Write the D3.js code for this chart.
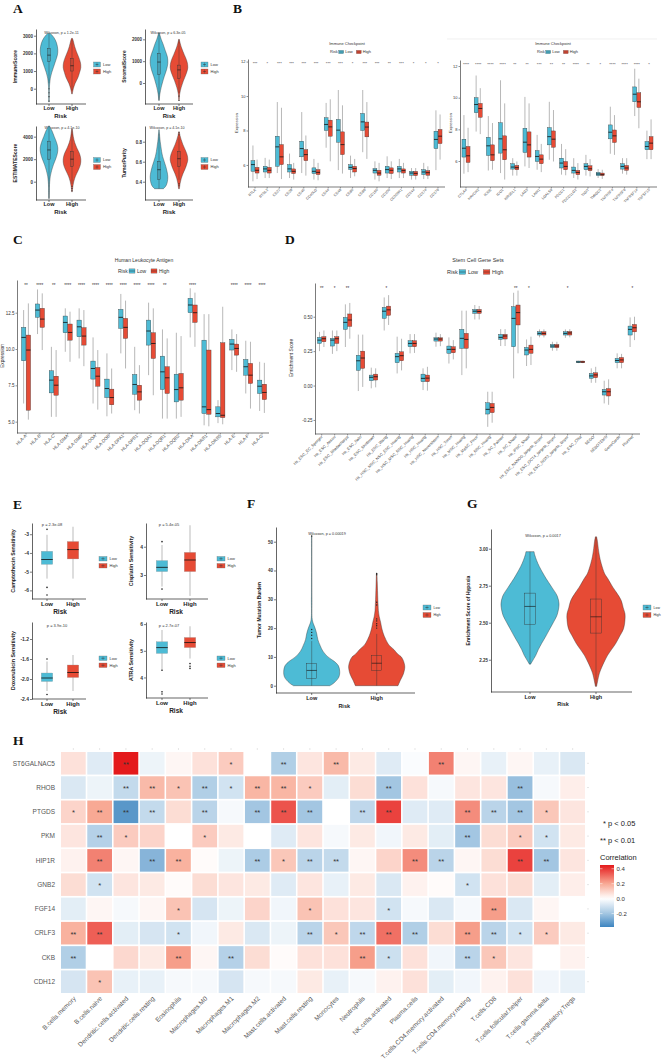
<!DOCTYPE html>
<html><head><meta charset="utf-8">
<script src="https://cdn.jsdelivr.net/npm/d3@7"></script>
<style>body{margin:0;background:#fff}svg{display:block}</style>
</head><body>
<script>
// ================= DATA =================
const riskGroups=["Low","High"];

// Panel A violin profiles [value, relative width]
const aImmuneLow=[[-750,0.02],[-400,0.03],[0,0.04],[300,0.08],[600,0.15],[900,0.3],[1200,0.5],[1500,0.7],[1900,0.95],[2200,1.0],[2600,0.85],[2900,0.55],[3130,0.15]];
const aImmuneHigh=[[-300,0.03],[0,0.15],[300,0.35],[600,0.65],[900,0.85],[1200,1.0],[1500,0.95],[1800,0.75],[2100,0.5],[2400,0.3],[2700,0.15],[2850,0.05]];
const aStromalLow=[[-800,0.02],[-500,0.1],[-200,0.25],[0,0.38],[300,0.6],[600,0.85],[900,1.0],[1200,0.95],[1500,0.7],[1800,0.45],[2000,0.25],[2200,0.1],[2300,0.03]];
const aStromalHigh=[[-800,0.02],[-500,0.08],[-200,0.25],[100,0.5],[400,0.8],[700,1.0],[1000,0.9],[1300,0.6],[1600,0.3],[1800,0.15],[2000,0.03]];
const aEstimateLow=[[-1500,0.02],[-500,0.05],[0,0.08],[500,0.15],[1000,0.3],[1500,0.5],[2000,0.75],[2500,0.95],[3000,1.0],[3500,0.85],[4000,0.6],[4500,0.35],[4800,0.15],[4950,0.05]];
const aEstimateHigh=[[-900,0.03],[-400,0.1],[0,0.2],[500,0.4],[1000,0.7],[1500,0.95],[2000,1.0],[2500,0.85],[3000,0.55],[3500,0.3],[4000,0.15],[4500,0.06],[4700,0.02]];
const aPurityLow=[[0.33,0.5],[0.36,0.8],[0.4,0.95],[0.45,1.0],[0.5,0.92],[0.55,0.78],[0.6,0.6],[0.65,0.42],[0.7,0.3],[0.75,0.22],[0.8,0.14],[0.85,0.08],[0.9,0.04],[0.92,0.02]];
const aPurityHigh=[[0.33,0.05],[0.38,0.12],[0.43,0.25],[0.48,0.45],[0.53,0.7],[0.58,0.9],[0.62,1.0],[0.67,0.92],[0.72,0.7],[0.77,0.45],[0.82,0.25],[0.86,0.12],[0.9,0.03]];
// box stats [lower whisker, Q1, median, Q3, upper whisker]
const aImmuneBoxLow=[300,1530,1900,2280,3100], aImmuneOutLow=[0,-230,-450,-700];
const aImmuneBoxHigh=[-100,1000,1300,1720,2800];
const aStromalBoxLow=[-800,400,960,1360,2300];
const aStromalBoxHigh=[-450,210,600,820,2000], aStromalOutHigh=[-600,-800];
const aEstimateBoxLow=[-1500,2000,2820,3600,4950];
const aEstimateBoxHigh=[-200,1330,2000,2670,4700], aEstimateOutHigh=[-400,-600,-800];
const aPurityBoxLow=[0.33,0.42,0.52,0.6,0.88];
const aPurityBoxHigh=[0.42,0.55,0.63,0.7,0.85], aPurityOutHigh=[0.87,0.89,0.36,0.38];
const aTitles=["Wilcoxon, p = 1.2e-11","Wilcoxon, p = 6.3e-05","Wilcoxon, p = 4.1e-10","Wilcoxon, p = 4.1e-10"];
const aYLabels=["ImmuneScore","StromalScore","ESTIMATEScore","TumorPurity"];

// Panel B – immune checkpoints
const bCats1=["BTLA","BTNL2","CD27","CD28","CD40","CD40LG","CD44","CD48","CD80","CD86","CD160","CD200","CD200R1","CD244","CD274","CD276"];
const bLow1=[[5.05,5.63,6.02,6.25,7.13],[5.24,5.59,5.77,5.92,6.41],[5.53,5.92,7.05,7.67,9.65],[5.24,5.59,5.77,6.02,6.66],[5.53,6.47,6.95,7.38,9.07],[5.15,5.5,5.63,5.83,6.35],[7.0,8.0,8.35,8.74,9.6],[5.7,7.32,8.02,8.64,10.35],[5.24,5.73,5.86,6.02,6.54],[6.74,8.0,8.5,8.99,10.35],[5.15,5.53,5.69,5.79,6.21],[5.24,5.53,5.73,5.92,6.5],[5.24,5.59,5.77,5.92,6.35],[5.15,5.4,5.53,5.63,5.82],[5.18,5.44,5.59,5.73,6.12],[5.7,6.95,7.48,7.96,9.17]];
const bHigh1=[[5.18,5.53,5.69,5.86,6.31],[5.24,5.53,5.69,5.86,6.31],[5.18,6.02,6.47,7.18,9.32],[5.15,5.5,5.63,5.77,6.12],[5.38,6.25,6.6,6.89,7.71],[5.11,5.44,5.57,5.73,6.12],[6.21,7.67,8.21,8.6,9.81],[5.5,6.6,7.18,7.92,9.46],[5.34,5.59,5.79,5.92,6.35],[6.35,7.63,8.2,8.49,9.65],[5.05,5.4,5.53,5.69,6.12],[5.18,5.5,5.69,5.83,6.21],[5.24,5.53,5.67,5.77,6.12],[5.15,5.38,5.51,5.63,5.82],[5.18,5.4,5.55,5.67,5.92],[6.31,7.24,7.67,8.06,8.93]];
const bSig1=["***","*","***","***","***","***","***","***","*","***","***","**","***","*","*","*"];
const bCats2=["CTLA4","HAVCR2","ICOS","IDO1","KIR3DL1","LAG3","LAIR1","LGALS9","PDCD1","PDCD1LG2","TIGIT","TMIGD2","TNFRSF4","TNFRSF9","TNFRSF14","TNFSF15"];
const bLow2=[[5.2,6.25,6.81,7.38,8.9],[7.86,9.05,9.57,10.0,11.4],[5.4,6.35,6.96,7.5,8.84],[5.24,6.5,7.4,8.42,11.1],[5.08,5.49,5.62,5.83,6.18],[5.66,6.54,7.19,8.07,10.05],[5.45,5.97,6.29,6.66,7.65],[6.08,7.02,7.54,8.11,9.74],[5.14,5.56,5.87,6.18,7.08],[4.93,5.24,5.41,5.62,6.18],[5.08,5.45,5.66,5.83,6.39],[4.93,5.08,5.18,5.28,5.49],[6.46,7.4,7.82,8.28,9.43],[5.2,5.49,5.66,5.83,6.18],[8.84,9.74,10.22,10.68,11.83],[6.12,6.71,6.92,7.23,7.92]];
const bHigh2=[[5.3,5.91,6.33,6.92,8.1],[7.7,8.76,9.32,9.64,10.6],[5.45,6.02,6.39,7.02,8.4],[4.83,6.08,6.71,7.59,9.64],[5.08,5.45,5.58,5.72,5.97],[5.56,6.25,7.02,7.84,9.64],[5.3,5.83,6.12,6.39,7.08],[5.97,6.87,7.38,7.9,9.22],[5.1,5.45,5.66,5.97,6.75],[4.83,5.14,5.28,5.41,5.87],[5.03,5.39,5.51,5.7,6.12],[4.87,5.08,5.14,5.24,5.45],[6.39,7.17,7.59,7.96,8.9],[5.14,5.41,5.56,5.72,6.18],[8.07,9.38,9.74,10.31,11.2],[6.12,6.71,7.13,7.54,8.63]];
const bSig2=["****","****","****","****","**","**","***","**","**","****","**","*","****","****","****","*"];

// Panel C – HLA
const cCats=["HLA-A","HLA-B","HLA-C","HLA-DMA","HLA-DMB","HLA-DOA","HLA-DOB","HLA-DPA1","HLA-DPB1","HLA-DQA1","HLA-DQB1","HLA-DQB2","HLA-DRA","HLA-DRB1","HLA-DRB5","HLA-E","HLA-F","HLA-G"];
const cLow=[[6.25,9.19,10.8,11.49,12.68],[11.03,12.18,12.68,13.1,14.1],[5.33,6.98,7.86,8.5,10.15],[9.81,11.12,11.83,12.27,12.8],[9.35,10.84,11.53,11.99,12.8],[6.25,7.93,8.66,9.17,10.8],[5.37,6.66,7.28,7.93,9.7],[9.7,11.42,12.18,12.73,13.79],[5.79,6.89,7.56,8.25,10.15],[8.2,10.27,11.24,11.99,13.19],[5.21,7.21,8.43,9.51,11.35],[5.21,6.36,7.21,8.27,11.12],[10.8,12.5,13.03,13.49,14.18],[4.75,5.56,6.02,10.61,12.4],[4.9,5.33,5.56,6.02,6.48],[8.55,9.93,10.34,10.66,11.35],[6.94,8.2,8.78,9.28,10.57],[5.74,6.94,7.44,7.86,9.12]];
const cHigh=[[5.14,5.79,9.93,10.96,13.14],[9.93,11.49,12.06,12.8,13.83],[5.33,6.82,7.51,8.13,9.93],[9.12,10.61,11.14,11.72,12.57],[8.82,10.27,10.89,11.47,12.68],[5.83,7.44,8.13,8.73,9.93],[5.56,6.16,6.66,7.24,8.66],[8.66,10.73,11.49,12.11,13.33],[5.56,6.48,7.05,7.51,8.89],[6.82,9.35,10.38,11.12,12.8],[5.21,6.94,8.02,8.78,10.73],[5.33,6.48,7.33,8.32,10.89],[10.15,11.83,12.5,13.03,13.88],[4.68,5.51,5.83,9.93,12.4],[4.82,5.28,5.44,10.43,12.91],[8.43,9.58,10.04,10.34,11.03],[5.9,7.63,8.2,9.01,10.5],[5.6,6.52,7.01,7.58,9.05]];
const cSig=["**","****","**","****","****","****","****","****","****","****","**","","****","","","****","****","****"];

// Panel D – stem cell gene sets
const dCats=["Hs_ESC_EC_Sperger","Hs_ESC_Assou","Hs_ESC_Bhattacharya","Hs_ESC_Sato","Hs_ESC_Skottman","Hs_ESC_Wang","Hs_HSC_MSC_NSC_ESC_Huang","Hs_HSC_MSC_NSC_Huang","Hs_HSC_Huang","Hs_HSC_Novershtern","Hs_HSC_Toren","Hs_MSC_Huang","Hs_MaSC_Pece","Hs_NSC_Huang","Hs_SC_Palmer","Hs_SC_Shats","Hs_iPSC_Shats","Hs_ESC_NANOG_targets_Boyer","Hs_ESC_OCT4_targets_Boyer","Hs_ESC_SOX2_targets_Boyer","Hs_ESC_Chia","SEGO","SEBOTEMS","GeneCards","Plurinet"];
const dLow=[[0.25,0.306,0.33,0.35,0.39],[0.23,0.287,0.33,0.343,0.40],[0.28,0.408,0.459,0.495,0.59],[-0.04,0.11,0.18,0.22,0.37],[-0.02,0.035,0.06,0.076,0.13],[0.40,0.488,0.54,0.568,0.64],[0.088,0.166,0.21,0.234,0.355],[0.234,0.282,0.306,0.326,0.374],[-0.033,0.028,0.052,0.083,0.125],[0.282,0.323,0.338,0.347,0.384],[0.16,0.234,0.263,0.287,0.35],[0.076,0.27,0.343,0.408,0.544],[0.48,0.524,0.54,0.553,0.585],[-0.3,-0.207,-0.173,-0.125,-0.045],[0.287,0.335,0.35,0.372,0.41],[0.052,0.282,0.488,0.573,0.674],[0.142,0.222,0.258,0.277,0.335],[0.35,0.367,0.379,0.391,0.408],[0.253,0.275,0.287,0.299,0.318],[0.347,0.367,0.379,0.391,0.408],[0.163,0.166,0.171,0.178,0.18],[0.02,0.052,0.07,0.088,0.125],[-0.13,-0.069,-0.045,-0.028,0.035],[0.125,0.166,0.182,0.197,0.234],[0.28,0.367,0.408,0.432,0.495]];
const dHigh=[[0.28,0.318,0.34,0.355,0.40],[0.25,0.306,0.34,0.355,0.40],[0.34,0.43,0.476,0.52,0.60],[-0.01,0.125,0.2,0.25,0.37],[-0.013,0.04,0.064,0.083,0.125],[0.44,0.51,0.55,0.577,0.657],[0.11,0.18,0.217,0.245,0.34],[0.237,0.282,0.306,0.326,0.374],[-0.037,0.028,0.054,0.076,0.136],[0.286,0.323,0.338,0.347,0.374],[0.19,0.238,0.263,0.282,0.33],[0.125,0.27,0.335,0.379,0.544],[0.48,0.524,0.538,0.553,0.578],[-0.27,-0.197,-0.159,-0.13,-0.045],[0.287,0.338,0.36,0.372,0.41],[0.234,0.44,0.53,0.585,0.69],[0.149,0.234,0.263,0.294,0.355],[0.35,0.367,0.379,0.391,0.408],[0.253,0.275,0.287,0.299,0.318],[0.35,0.367,0.382,0.393,0.41],[0.163,0.166,0.171,0.178,0.18],[0.02,0.057,0.077,0.093,0.136],[-0.14,-0.076,-0.045,-0.022,0.045],[0.125,0.166,0.186,0.204,0.23],[0.33,0.39,0.42,0.444,0.5]];
const dSig=["**","*","**","","","*","","","","","","","","","","**","*","","","*","","","","","*"];

// Panel E – drug sensitivity boxes
const eTitles=["p = 2.3e-08","p = 5.4e-05","p = 3.9e-10","p = 2.7e-07"];
const eYLabels=["Camptothecin Sensitivity","Cisplatin Sensitivity","Doxorubicin Sensitivity","ATRA Sensitivity"];
const eCampLow=[-5.37,-4.61,-4.35,-3.91,-3.03], eCampLowOut=[-2.74,-5.84,-6.25];
const eCampHigh=[-5.37,-4.32,-3.82,-3.39,-2.6];
const eCispLow=[2.59,3.12,3.27,3.51,4.06], eCispLowOut=[4.18,2.5];
const eCispHigh=[2.26,3.12,3.53,3.8,4.76];
const eDoxoLow=[-2.24,-2.05,-1.98,-1.88,-1.65], eDoxoLowOut=[-1.6,-2.31];
const eDoxoHigh=[-2.24,-1.97,-1.87,-1.72,-1.52];
const eAtraLow=[4.27,4.9,5.12,5.34,5.78], eAtraLowOut=[3.38,3.46,4.27];
const eAtraHigh=[4.71,5.12,5.31,5.5,5.92], eAtraHighOut=[4.52,4.42,4.34];

// Panel F – TMB violins
const fLow=[[0,0.65],[1,0.8],[3,0.97],[5,1.0],[7,0.95],[8.5,0.8],[10,0.58],[12,0.4],[14,0.3],[16,0.22],[18,0.18],[20,0.12],[21.5,0.06],[23,0.02],[30,0.01],[52,0.008]];
const fHigh=[[0,0.76],[2,0.85],[4,0.95],[6,1.0],[7,1.0],[8.5,0.96],[10,0.88],[11,0.75],[12.5,0.62],[14,0.45],[15,0.38],[17,0.28],[18,0.24],[20,0.18],[22,0.14],[24,0.09],[26,0.06],[28,0.05],[30,0.04],[33,0.03],[36,0.02],[39,0.01]];
const fBoxLow=[0,2.5,5.3,7.8,15.5], fOutLow=[16.4,17.5,18.5,19.5,52];
const fBoxHigh=[0,5.3,7.8,10.4,18], fOutHigh=[20,20.8,21.5,22.5,23.2,28,29,38.5,39];

// Panel G – hypoxia violins
const gLow=[[2.22,0.02],[2.24,0.08],[2.28,0.2],[2.32,0.29],[2.36,0.4],[2.4,0.52],[2.45,0.66],[2.5,0.8],[2.55,0.93],[2.6,0.99],[2.63,1.0],[2.68,0.94],[2.74,0.75],[2.8,0.55],[2.83,0.46],[2.88,0.32],[2.92,0.23],[2.96,0.16],[2.98,0.14]];
const gHigh=[[2.07,0.02],[2.1,0.05],[2.16,0.12],[2.2,0.2],[2.23,0.27],[2.28,0.4],[2.32,0.54],[2.36,0.68],[2.41,0.82],[2.46,0.95],[2.52,1.0],[2.56,1.0],[2.6,0.94],[2.65,0.87],[2.7,0.72],[2.74,0.58],[2.8,0.4],[2.83,0.3],[2.9,0.18],[2.95,0.12],[3.0,0.08],[3.05,0.05],[3.08,0.02]];
const gBoxLow=[2.22,2.49,2.61,2.70,2.98];
const gBoxHigh=[2.07,2.43,2.54,2.66,3.08];

// Panel H – correlation heatmap
const hRows=["ST6GALNAC5","RHOB","PTGDS","PKM","HIP1R","GNB2","FGF14","CRLF3","CKB","CDH12"];
const hCols=["B.cells.memory","B.cells.naive","Dendritic.cells.activated","Dendritic.cells.resting","Eosinophils","Macrophages.M0","Macrophages.M1","Macrophages.M2","Mast.cells.activated","Mast.cells.resting","Monocytes","Neutrophils","NK.cells.activated","Plasma.cells","T.cells.CD4.memory.activated","T.cells.CD4.memory.resting","T.cells.CD8","T.cells.follicular.helper","T.cells.gamma.delta","T.cells.regulatory.Tregs"];
const hVals=[
[0.07,-0.07,0.45,-0.04,0.02,0.07,0.12,0.0,-0.17,0.06,0.16,0.05,-0.07,-0.01,0.27,0.02,-0.05,0.02,-0.05,-0.08],
[-0.08,-0.04,-0.13,0.16,0.14,-0.17,-0.1,0.17,0.17,0.12,-0.06,0.08,-0.2,0.07,-0.02,0.06,0.06,-0.22,-0.02,0.04],
[0.1,0.2,-0.33,-0.13,0.08,-0.15,-0.02,-0.2,0.35,-0.2,0.0,-0.14,0.38,-0.07,-0.07,0.25,-0.15,-0.2,0.13,0.06],
[0.06,-0.16,0.12,0.1,0.0,0.12,0.05,0.0,-0.07,0.06,-0.02,0.05,-0.03,0.05,-0.06,-0.2,0.08,0.12,-0.1,0.05],
[0.03,0.27,0.02,-0.25,0.18,0.01,-0.04,-0.18,0.13,-0.15,-0.13,0.02,0.1,0.25,-0.15,0.02,0.08,0.38,-0.2,0.06],
[0.08,-0.1,0.06,0.05,0.01,0.08,0.06,0.05,-0.07,0.06,-0.05,0.05,-0.08,0.03,0.01,-0.1,0.07,0.08,-0.06,0.04],
[-0.06,0.02,-0.02,0.02,0.14,-0.09,-0.04,0.1,-0.03,0.14,0.07,0.06,-0.1,-0.02,-0.08,-0.02,0.22,-0.08,0.02,0.0],
[0.18,0.33,-0.06,-0.09,-0.1,-0.03,0.05,-0.08,-0.04,-0.15,0.13,-0.14,0.3,-0.17,0.08,0.22,-0.15,-0.1,0.12,0.05],
[-0.17,0.0,0.09,0.05,0.22,0.02,-0.16,0.08,0.01,0.07,0.07,0.22,-0.11,0.07,-0.03,-0.15,0.13,0.06,0.0,0.03],
[-0.09,0.14,-0.05,-0.05,-0.02,-0.02,-0.09,-0.02,-0.02,0.05,-0.05,-0.02,0.03,0.07,-0.06,-0.03,0.03,0.07,-0.03,-0.05]];
const hSig=[
["","","**","","","","*","","**","","**","","","","**","","","","",""],
["","","**","**","*","**","*","**","**","*","","","**","","","","","**","",""],
["*","**","**","**","","**","","**","**","**","","**","**","","","**","**","**","*",""],
["","**","*","","","*","","","","","","","","","","**","","*","*",""],
["","**","","**","**","","","**","*","**","**","","","**","**","","","**","**",""],
["","*","","","","","","","","","","","","","","*","","","",""],
["","","","","*","","","","","*","","","*","","","","**","","",""],
["**","**","","","*","","","","","**","*","**","**","**","","**","**","*","*",""],
["**","","","","**","","**","","","","","**","*","","","**","*","","",""],
["","*","","","","","","","","","","","","","","","","","",""]];
const hLegendTicks=[-0.2,0.0,0.2,0.4];

// ================= DRAWING =================
const W=666,H=1062;
const SANS='"Liberation Sans",Arial,Helvetica,sans-serif';
const SERIF='"Liberation Serif","Times New Roman",serif';
const COL={Low:"#4DBBD5",High:"#E64B35"};
const svg=d3.select("body").append("svg").attr("width",W).attr("height",H);
svg.append("rect").attr("width",W).attr("height",H).attr("fill","#fff");
const fmt=f=>d=>d3.format(f)(d).replace("\u2212","-");

function txt(g,x,y,s,o={}){
  const t=g.append("text").attr("x",x).attr("y",y).text(s)
    .attr("font-size",o.fs||5).attr("fill",o.fill||"#333")
    .attr("text-anchor",o.anchor||"middle")
    .attr("font-weight",o.bold?"bold":"normal")
    .attr("font-family",o.font||SANS);
  if(o.rot) t.attr("transform",`rotate(${o.rot},${x},${y})`);
  if(o.db) t.attr("dominant-baseline",o.db);
  return t;
}
function styleAxis(sel,fs,bold,col){
  sel.selectAll("path.domain").attr("stroke",col).attr("stroke-width",0.7);
  sel.selectAll(".tick line").attr("stroke",col).attr("stroke-width",0.6);
  sel.selectAll(".tick text").attr("font-size",fs).attr("font-family",SANS)
     .attr("fill","#333").attr("font-weight",bold?"bold":"normal");
}
function drawBox(g,cx,bw,y,st,fill,o={}){
  g.append("line").attr("x1",cx).attr("x2",cx).attr("y1",y(st[0])).attr("y2",y(st[4]))
    .attr("stroke",o.wc||"#333").attr("stroke-width",o.ww||0.5);
  g.append("rect").attr("x",cx-bw/2).attr("y",y(st[3])).attr("width",bw)
    .attr("height",Math.max(0.4,y(st[1])-y(st[3]))).attr("fill",fill)
    .attr("stroke",o.sc||"#333").attr("stroke-width",o.sw||0.4);
  g.append("line").attr("x1",cx-bw/2).attr("x2",cx+bw/2).attr("y1",y(st[2])).attr("y2",y(st[2]))
    .attr("stroke","#111").attr("stroke-width",o.mw||0.8);
  (o.out||[]).forEach(v=>g.append("circle").attr("cx",cx).attr("cy",y(v)).attr("r",o.r||0.7).attr("fill","#222"));
}
function drawViolin(g,cx,y,prof,hw,fill){
  const area=d3.area().curve(d3.curveCatmullRom.alpha(0.5))
    .y(d=>y(d[0])).x0(d=>cx-d[1]*hw).x1(d=>cx+d[1]*hw);
  g.append("path").datum(prof).attr("d",area).attr("fill",fill).attr("stroke","#333").attr("stroke-width",0.4);
}
function riskFrame(o){
  const g=svg.append("g");
  const y=d3.scaleLinear().domain(o.yd).range([o.yb,o.yt]);
  const x=d3.scalePoint().domain(riskGroups).range(o.xr);
  const ax=g.append("g").attr("transform",`translate(${o.x0},0)`)
    .call(d3.axisLeft(y).tickValues(o.ticks).tickFormat(fmt(o.fmt||"d")).tickSize(2).tickPadding(1).tickSizeOuter(0));
  styleAxis(ax,o.tfs,true,"#222");
  g.append("line").attr("x1",o.x0).attr("x2",o.x1).attr("y1",o.yb).attr("y2",o.yb).attr("stroke","#222").attr("stroke-width",0.7);
  riskGroups.forEach(r=>{
    g.append("line").attr("x1",x(r)).attr("x2",x(r)).attr("y1",o.yb).attr("y2",o.yb+2).attr("stroke","#222").attr("stroke-width",0.6);
    txt(g,x(r),o.yb+o.lowDy,r,{fs:o.xfs,bold:true,fill:"#222"});
  });
  txt(g,(x("Low")+x("High"))/2,o.yb+o.riskDy,"Risk",{fs:o.rfs,bold:true,fill:"#222"});
  txt(g,o.ylx,(o.yt+o.yb)/2,o.ylab,{fs:o.yfs,bold:true,fill:"#222",rot:-90});
  if(o.title) txt(g,o.tx,o.ty,o.title,{fs:o.titfs||4,fill:"#333"});
  return {g,x,y};
}
function riskLegend(x,y1,y2,w,h,fs){
  const g=svg.append("g");
  [[riskGroups[0],y1],[riskGroups[1],y2]].forEach(([r,yy])=>{
    g.append("rect").attr("x",x).attr("y",yy).attr("width",w).attr("height",h)
      .attr("fill",COL[r]).attr("stroke","#666").attr("stroke-width",0.3);
    g.append("line").attr("x1",x+w*0.3).attr("x2",x+w*0.7).attr("y1",yy+h/2).attr("y2",yy+h/2).attr("stroke","#333").attr("stroke-width",0.5);
    g.append("line").attr("x1",x+w/2).attr("x2",x+w/2).attr("y1",yy+0.5).attr("y2",yy+h-0.5).attr("stroke","#333").attr("stroke-width",0.3);
    txt(g,x+w+2.5,yy+h/2+fs*0.35,r,{fs:fs,anchor:"start",fill:"#333"});
  });
}
function groupLegend(lx,ly,f){
  const g=svg.append("g");
  txt(g,lx,ly+f*0.35,"Risk",{fs:f,anchor:"start",fill:"#333"});
  const pos=[[riskGroups[0],2.2],[riskGroups[1],6.6]];
  pos.forEach(([r,o])=>{
    const rx=lx+o*f, w=1.2*f, h=0.85*f;
    g.append("rect").attr("x",rx).attr("y",ly-h/2).attr("width",w).attr("height",h)
      .attr("fill",COL[r]).attr("stroke","#555").attr("stroke-width",0.3);
    g.append("line").attr("x1",rx).attr("x2",rx+w).attr("y1",ly).attr("y2",ly).attr("stroke","#222").attr("stroke-width",0.4);
    txt(g,rx+w+0.4*f,ly+f*0.35,r,{fs:f,anchor:"start",fill:"#333"});
  });
}
function groupPanel(o){
  const g=svg.append("g");
  const x=d3.scalePoint().domain(o.cats).range(o.xr);
  const y=d3.scaleLinear().domain(o.yd).range([o.yb,o.yt]);
  const ax=g.append("g").attr("transform",`translate(${o.x0},0)`)
    .call(d3.axisLeft(y).tickValues(o.ticks).tickFormat(fmt(o.fmt)).tickSize(1.5).tickPadding(1).tickSizeOuter(0));
  styleAxis(ax,o.tfs,false,"#444");
  g.append("line").attr("x1",o.x0).attr("x2",o.x1).attr("y1",o.yb).attr("y2",o.yb).attr("stroke","#444").attr("stroke-width",0.7);
  const st=x.step(), bw=st*0.32, off=st*0.17;
  o.cats.forEach((c,i)=>{
    const cx=x(c);
    g.append("line").attr("x1",cx).attr("x2",cx).attr("y1",o.yb).attr("y2",o.yb+1.5).attr("stroke","#444").attr("stroke-width",0.5);
    txt(g,cx+1.2,o.yb+3.2,c,{fs:o.lfs,anchor:"end",rot:-45,fill:"#444"});
    drawBox(g,cx-off,bw,y,o.low[i],COL.Low,{wc:"#9a9a9a",ww:0.7,sc:"#333",sw:0.35,mw:0.8});
    drawBox(g,cx+off,bw,y,o.high[i],COL.High,{wc:"#9a9a9a",ww:0.7,sc:"#333",sw:0.35,mw:0.8});
    if(o.sig[i]) txt(g,cx,o.sigY,o.sig[i],{fs:o.sfs,fill:"#333"});
  });
  txt(g,o.titleX,o.titleY,o.title,{fs:o.titfs,fill:"#333"});
  groupLegend(o.legX,o.legY,o.legfs);
  txt(g,o.ylx,o.yly,o.ylab,{fs:o.yfs,rot:-90,fill:"#333"});
}

// ---------- Panel letters ----------
[["A",13,12.5],["B",233,13],["C",13,243.5],["D",285,244],["E",13,509],["F",247,508],["G",467,508],["H",13,745]]
  .forEach(([l,x,y])=>txt(svg,x,y,l,{fs:13.5,bold:true,anchor:"start",font:SERIF,fill:"#111"}));

// ---------- Panel A ----------
const aCfg=[
 {x0:36,x1:86,yt:29,yb:104,yd:[-866,3380],ticks:[0,1000,2000,3000],xr:[49,72],ylx:17,tx:61.5,ty:33.5,
  prof:[aImmuneLow,aImmuneHigh],box:[aImmuneBoxLow,aImmuneBoxHigh],out:[aImmuneOutLow,[]]},
 {x0:145,x1:193,yt:29,yb:104,yd:[-962,2474],ticks:[0,1000,2000],xr:[159,179],ylx:126,tx:168,ty:33.5,
  prof:[aStromalLow,aStromalHigh],box:[aStromalBoxLow,aStromalBoxHigh],out:[[],aStromalOutHigh]},
 {x0:36,x1:86,yt:126,yb:200,yd:[-1627,4947],ticks:[0,2000,4000],xr:[49,72],ylx:17,tx:62,ty:129,
  prof:[aEstimateLow,aEstimateHigh],box:[aEstimateBoxLow,aEstimateBoxHigh],out:[[],aEstimateOutHigh]},
 {x0:145,x1:193,yt:126,yb:200,yd:[0.217,0.957],ticks:[0.4,0.6,0.8],fmt:".1f",xr:[159,179],ylx:126,tx:167,ty:129,
  prof:[aPurityLow,aPurityHigh],box:[aPurityBoxLow,aPurityBoxHigh],out:[[],aPurityOutHigh]}];
aCfg.forEach((c,i)=>{
  const f=riskFrame(Object.assign({},c,{tfs:4.5,xfs:5.5,rfs:6,yfs:5,lowDy:6.3,riskDy:13.5,ylab:aYLabels[i],title:aTitles[i],titfs:3.6}));
  riskGroups.forEach((r,j)=>{
    drawViolin(f.g,f.x(r),f.y,c.prof[j],8.8,COL[r]);
    drawBox(f.g,f.x(r),3.2,f.y,c.box[j],"none",{wc:"#333",ww:0.4,sc:"#333",sw:0.4,mw:0.6,out:c.out[j],r:0.55});
  });
});
riskLegend(93.5,62,69,7,5,4);
riskLegend(201,62,69,7,5,4);
riskLegend(93.5,157.5,164.5,7,5,4);
riskLegend(201,157.5,164.5,7,5,4);

// ---------- Panel B ----------
groupPanel({cats:bCats1,low:bLow1,high:bHigh1,sig:bSig1,xr:[255,438],x0:248,x1:445,yt:59,yb:187,yd:[4.72,12.15],
  ticks:[6,8,10,12],fmt:"d",tfs:4,lfs:3.6,sfs:4,sigY:64.5,title:"Immune Checkpoint",titleX:347,titleY:44.5,titfs:4,
  legX:330,legY:52,legfs:4,ylab:"Expression",ylx:238,yly:123,yfs:4});
svg.append("line").attr("x1",447).attr("x2",657).attr("y1",39).attr("y2",39).attr("stroke","#e6e6e6").attr("stroke-width",0.6);
groupPanel({cats:bCats2,low:bLow2,high:bHigh2,sig:bSig2,xr:[466,649],x0:460,x1:657,yt:60,yb:187,yd:[4.36,12.38],
  ticks:[6,8,10,12],fmt:"d",tfs:4,lfs:3.6,sfs:4,sigY:66,title:"Immune Checkpoint",titleX:553,titleY:44.5,titfs:4,
  legX:537,legY:52,legfs:4,ylab:"Expression",ylx:452,yly:123,yfs:4});

// ---------- Panel C ----------
groupPanel({cats:cCats,low:cLow,high:cHigh,sig:cSig,xr:[26,262],x0:17,x1:269,yt:280,yb:433,yd:[4.22,14.75],
  ticks:[5,7.5,10,12.5],fmt:".1f",tfs:4.5,lfs:4.5,sfs:4.5,sigY:287,title:"Human Leukocyte Antigen",titleX:144,titleY:261.5,titfs:5,
  legX:118,legY:271,legfs:5,ylab:"Expression",ylx:4,yly:356,yfs:4.8});

// ---------- Panel D ----------
groupPanel({cats:dCats,low:dLow,high:dHigh,sig:dSig,xr:[321.7,632.3],x0:315,x1:640,yt:283,yb:434,yd:[-0.352,0.745],
  ticks:[-0.25,0,0.25,0.5],fmt:".2f",tfs:4.5,lfs:4,sfs:4.5,sigY:290,title:"Stem Cell Gene Sets",titleX:478,titleY:261.5,titfs:5.5,
  legX:447,legY:272,legfs:5.5,ylab:"Enrichment Score",ylx:293,yly:358,yfs:4.8});

// ---------- Panel E ----------
const eCfg=[
 {x0:32,x1:86,yt:523,yb:599,yd:[-6.46,-2.4],ticks:[-6,-5,-4,-3],xr:[47,73],ylx:15,tx:52,ty:525.5,
  box:[eCampLow,eCampHigh],out:[eCampLowOut,[]]},
 {x0:146,x1:208,yt:523,yb:599,yd:[2.15,4.84],ticks:[3,4],xr:[162,190],ylx:133,tx:169,ty:525.5,
  box:[eCispLow,eCispHigh],out:[eCispLowOut,[]]},
 {x0:32,x1:86,yt:622,yb:699,yd:[-2.4,-0.86],ticks:[-2.4,-2.0,-1.6,-1.2],fmt:".1f",xr:[47,73],ylx:15,tx:57,ty:626.5,
  box:[eDoxoLow,eDoxoHigh],out:[eDoxoLowOut,[]]},
 {x0:146,x1:208,yt:622,yb:698,yd:[3.23,6.08],ticks:[4,5,6],xr:[162,190],ylx:133,tx:169,ty:626.5,
  box:[eAtraLow,eAtraHigh],out:[eAtraLowOut,eAtraHighOut]}];
eCfg.forEach((c,i)=>{
  const f=riskFrame(Object.assign({},c,{tfs:5,xfs:6,rfs:6.5,yfs:5.3,lowDy:7,riskDy:15,ylab:eYLabels[i],title:eTitles[i],titfs:4}));
  riskGroups.forEach((r,j)=>drawBox(f.g,f.x(r),11.5,f.y,c.box[j],COL[r],{wc:"#aaa",ww:0.8,sc:"#999",sw:0.3,mw:0.8,out:c.out[j],r:0.8}));
});
riskLegend(99,556.5,563.5,8,4.5,4);
riskLegend(217,556.5,563.5,8,4.5,4);
riskLegend(99,656,663,8,4.5,4);
riskLegend(217,656,663,8,4.5,4);

// ---------- Panel F ----------
{
 const f=riskFrame({x0:276,x1:415,yt:527,yb:693,yd:[-2.53,55.1],ticks:[0,10,20,30,40,50],xr:[311.7,376.7],
   ylx:261,ylab:"Tumor Mutation Burden",title:"Wilcoxon, p = 0.00019",tx:327,ty:534.5,
   tfs:4.5,xfs:5.5,rfs:5.5,yfs:5,lowDy:7,riskDy:14.5,titfs:3.8});
 drawViolin(f.g,f.x("Low"),f.y,fLow,28,COL.Low);
 drawViolin(f.g,f.x("High"),f.y,fHigh,28,COL.High);
 drawBox(f.g,f.x("Low"),10,f.y,fBoxLow,"none",{wc:"#333",ww:0.4,sc:"#333",sw:0.4,mw:0.6,out:fOutLow,r:0.7});
 drawBox(f.g,f.x("High"),10,f.y,fBoxHigh,"none",{wc:"#333",ww:0.4,sc:"#333",sw:0.4,mw:0.6,out:fOutHigh,r:0.7});
 riskLegend(423,605,612.5,8,5,3.5);
}
// ---------- Panel G ----------
{
 const f=riskFrame({x0:491,x1:632,yt:529,yb:692,yd:[2.032,3.133],ticks:[2.25,2.5,2.75,3.0],fmt:".2f",xr:[530,596],
   ylx:470,ylab:"Enrichment Score of Hypoxia",title:"Wilcoxon, p = 0.0017",tx:543,ty:536.5,
   tfs:4.5,xfs:5.5,rfs:5.5,yfs:5,lowDy:6.8,riskDy:14,titfs:3.8});
 drawViolin(f.g,f.x("Low"),f.y,gLow,29,COL.Low);
 drawViolin(f.g,f.x("High"),f.y,gHigh,29,COL.High);
 drawBox(f.g,f.x("Low"),11,f.y,gBoxLow,"none",{wc:"#333",ww:0.4,sc:"#333",sw:0.4,mw:0.6});
 drawBox(f.g,f.x("High"),11,f.y,gBoxHigh,"none",{wc:"#333",ww:0.4,sc:"#333",sw:0.4,mw:0.6});
 riskLegend(643,605,612.5,8,5,3.5);
}

// ---------- Panel H ----------
{
 const g=svg.append("g");
 const x=d3.scaleBand().domain(hCols).range([61,585]).paddingInner(0.06);
 const y=d3.scaleBand().domain(hRows).range([752,993]).paddingInner(0.07);
 const color=d3.scaleLinear().domain([-0.38,-0.2,0,0.2,0.45]).range(["#3d85c0","#a3c6e2","#ffffff","#f8a994","#e41a1c"]).clamp(true);
 hRows.forEach((r,i)=>{
   hCols.forEach((c,j)=>{
     g.append("rect").attr("x",x(c)).attr("y",y(r)).attr("width",x.bandwidth()).attr("height",y.bandwidth())
       .attr("fill",color(hVals[i][j]));
     if(hSig[i][j]) txt(g,x(c)+x.bandwidth()/2,y(r)+y.bandwidth()/2+3.6,hSig[i][j],{fs:7.5,fill:"#333"});
   });
   txt(g,55,y(r)+y.bandwidth()/2+2.3,r,{fs:6.5,anchor:"end",fill:"#555"});
   g.append("line").attr("x1",587).attr("x2",589).attr("y1",y(r)+y.bandwidth()/2).attr("y2",y(r)+y.bandwidth()/2).attr("stroke","#ccc").attr("stroke-width",0.5);
 });
 hCols.forEach(c=>{
   const cx=x(c)+x.bandwidth()/2;
   txt(g,cx+3,999,c,{fs:6.5,anchor:"end",rot:-45,fill:"#555"});
   g.append("line").attr("x1",cx).attr("x2",cx).attr("y1",748).attr("y2",750).attr("stroke","#ccc").attr("stroke-width",0.5);
 });
 // legend
 txt(g,603,826,"* p < 0.05",{fs:7.5,anchor:"start",fill:"#222"});
 txt(g,600,843,"** p < 0.01",{fs:7.5,anchor:"start",fill:"#222"});
 txt(g,600,860,"Correlation",{fs:7.5,anchor:"start",fill:"#222"});
 const ly=d3.scaleLinear().domain([-0.38,0.45]).range([927,865]);
 const defs=svg.append("defs");
 const grad=defs.append("linearGradient").attr("id","hgrad").attr("x1","0").attr("x2","0").attr("y1","1").attr("y2","0");
 d3.range(0,1.0001,0.05).forEach(t=>{
   const v=-0.38+t*0.83;
   grad.append("stop").attr("offset",t).attr("stop-color",color(v));
 });
 g.append("rect").attr("x",600).attr("y",865).attr("width",14).attr("height",62).attr("fill","url(#hgrad)");
 hLegendTicks.forEach(v=>{
   g.append("line").attr("x1",600).attr("x2",602.5).attr("y1",ly(v)).attr("y2",ly(v)).attr("stroke","#fff").attr("stroke-width",0.5);
   g.append("line").attr("x1",611.5).attr("x2",614).attr("y1",ly(v)).attr("y2",ly(v)).attr("stroke","#fff").attr("stroke-width",0.5);
   txt(g,616.5,ly(v)+2,d3.format(".1f")(v).replace("\u2212","-"),{fs:6,anchor:"start",fill:"#333"});
 });
}
</script>
</body></html>
